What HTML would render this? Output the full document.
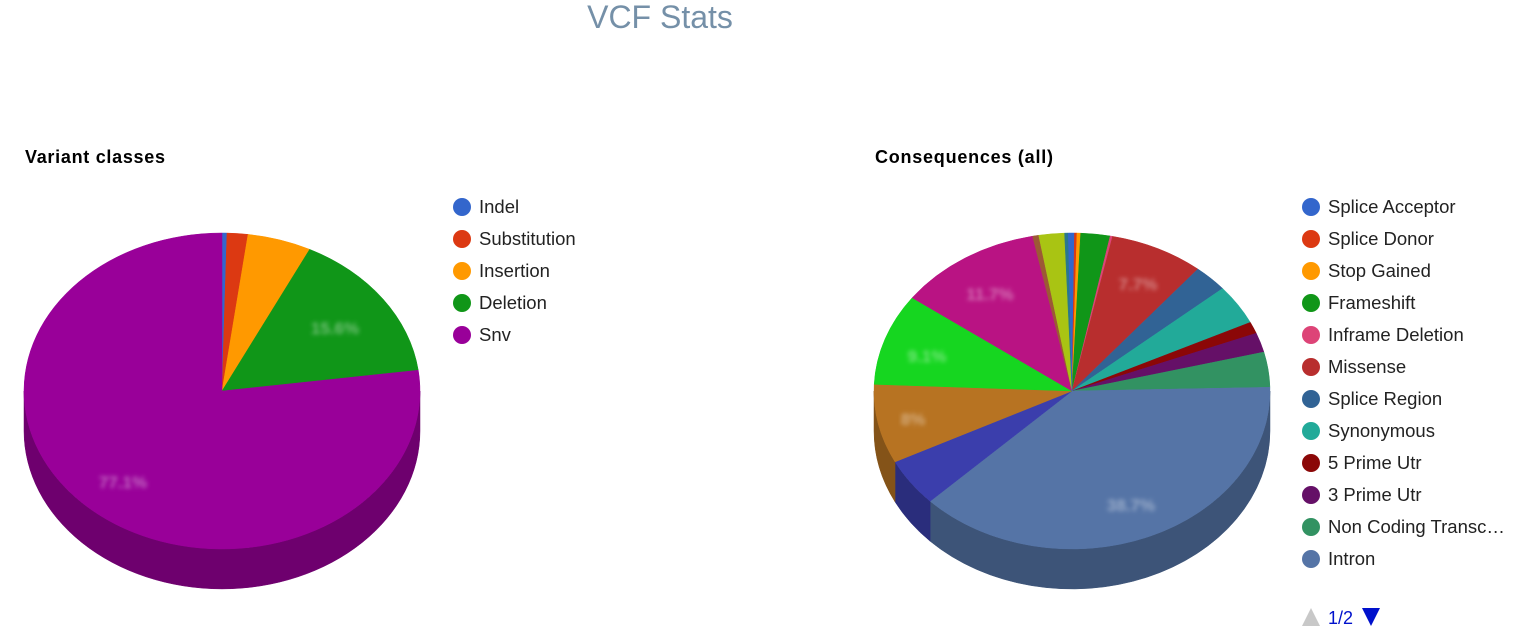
<!DOCTYPE html>
<html><head><meta charset="utf-8"><style>
html,body{margin:0;padding:0;background:#fff;width:1530px;height:634px;overflow:hidden;font-family:"Liberation Sans",sans-serif}
</style></head><body>
<svg id="s" width="1530" height="634" xmlns="http://www.w3.org/2000/svg" style="position:absolute;left:0;top:0">
<defs><filter id="bl"><feGaussianBlur stdDeviation="2"/></filter></defs>
<text x="660" y="28" text-anchor="middle" font-size="32" fill="#7590a8" font-family="Liberation Sans, sans-serif">VCF Stats</text>
<text x="25" y="163" font-size="18" font-weight="bold" fill="#000" textLength="140">Variant classes</text>
<text x="875" y="163" font-size="18" font-weight="bold" fill="#000" textLength="178">Consequences (all)</text>
<g id="g"></g>
</svg>
<script>
var NS="http://www.w3.org/2000/svg",g=document.getElementById('g');
function el(t,a,txt){var e=document.createElementNS(NS,t);for(var k in a)e.setAttribute(k,a[k]);if(txt)e.textContent=txt;g.appendChild(e);return e;}
function dark(c){var n=parseInt(c.slice(1),16),r=(n>>16)&255,gg=(n>>8)&255,b=n&255;var f=.72;return 'rgb('+Math.round(r*f)+','+Math.round(gg*f)+','+Math.round(b*f)+')';}
function pie(cx,cy,rx,ry,d,data){
 var tot=0;data.forEach(function(x){tot+=x[0]});
 function pt(a,dy){var r=a*Math.PI/180;return [cx+rx*Math.sin(r),cy-ry*Math.cos(r)+(dy||0)];}
 var c=0,sl=[];data.forEach(function(x){var a0=c/tot*360;c+=x[0];sl.push([a0,c/tot*360,x[1]]);});
 sl.forEach(function(s){var a=Math.max(s[0],90),b=Math.min(s[1],270);if(b<=a)return;
  var p1=pt(a),p2=pt(b),q2=pt(b,d),q1=pt(a,d),lg=(b-a)>180?1:0;
  el('path',{d:'M'+p1+' A'+rx+','+ry+' 0 '+lg+' 1 '+p2+' L'+q2+' A'+rx+','+ry+' 0 '+lg+' 0 '+q1+' Z',fill:dark(s[2]),stroke:dark(s[2]),'stroke-width':.5});});
 sl.forEach(function(s){var p1=pt(s[0]),p2=pt(s[1]),lg=(s[1]-s[0])>180?1:0;
  el('path',{d:'M'+cx+','+cy+' L'+p1+' A'+rx+','+ry+' 0 '+lg+' 1 '+p2+' Z',fill:s[2],stroke:s[2],'stroke-width':.5});});
}
pie(222,391,198,158,40,[[0.4,'#3366cc'],[1.7,'#dc3912'],[5.2,'#ff9900'],[15.6,'#109618'],[77.1,'#990099']]);
pie(1072,391,198,158,40,[[0.2,'#3366cc'],[0.2,'#dc3912'],[0.3,'#ff9900'],[2.4,'#109618'],[0.2,'#dd4477'],[7.7,'#b82e2e'],[2.8,'#316395'],[4.1,'#22aa99'],[1.2,'#8b0707'],[2.0,'#651067'],[3.6,'#329262'],[38.2,'#5574a6'],[4.9,'#3b3eac'],[8.1,'#b77322'],[9.4,'#16d620'],[11.8,'#b91383'],[0.5,'#9c5935'],[2.1,'#a9c413'],[0.3,'#2a778d'],[0.3,'#3366cc']]);
[[335,334,'15.6%'],[123,488,'77.1%'],[1138,290,'7.7%'],[990,300,'11.7%'],[927,362,'9.1%'],[913,425,'8%'],[1131,511,'38.7%']].forEach(function(l){
 el('text',{x:l[0],y:l[1],'text-anchor':'middle','font-size':17,'font-weight':'bold',fill:'#fff','fill-opacity':.4,filter:'url(#bl)'},l[2]);});
function legend(x,items){items.forEach(function(it,i){var y=207+32*i;el('circle',{cx:x,cy:y,r:9,fill:it[1]});
 el('text',{x:x+17,y:y+6,'font-size':18.5,fill:'#222'},it[0]);});}
legend(462,[['Indel','#3366cc'],['Substitution','#dc3912'],['Insertion','#ff9900'],['Deletion','#109618'],['Snv','#990099']]);
legend(1311,[['Splice Acceptor','#3366cc'],['Splice Donor','#dc3912'],['Stop Gained','#ff9900'],['Frameshift','#109618'],['Inframe Deletion','#dd4477'],['Missense','#b82e2e'],['Splice Region','#316395'],['Synonymous','#22aa99'],['5 Prime Utr','#8b0707'],['3 Prime Utr','#651067'],['Non Coding Transc\u2026','#329262'],['Intron','#5574a6']]);
el('path',{d:'M1302,626 L1320,626 L1311,608 Z',fill:'#c8c8c8'});
el('text',{x:1328,y:624,'font-size':18,fill:'#0011cc'},'1/2');
el('path',{d:'M1362,608 L1380,608 L1371,626 Z',fill:'#0011cc'});
</script>
</body></html>
